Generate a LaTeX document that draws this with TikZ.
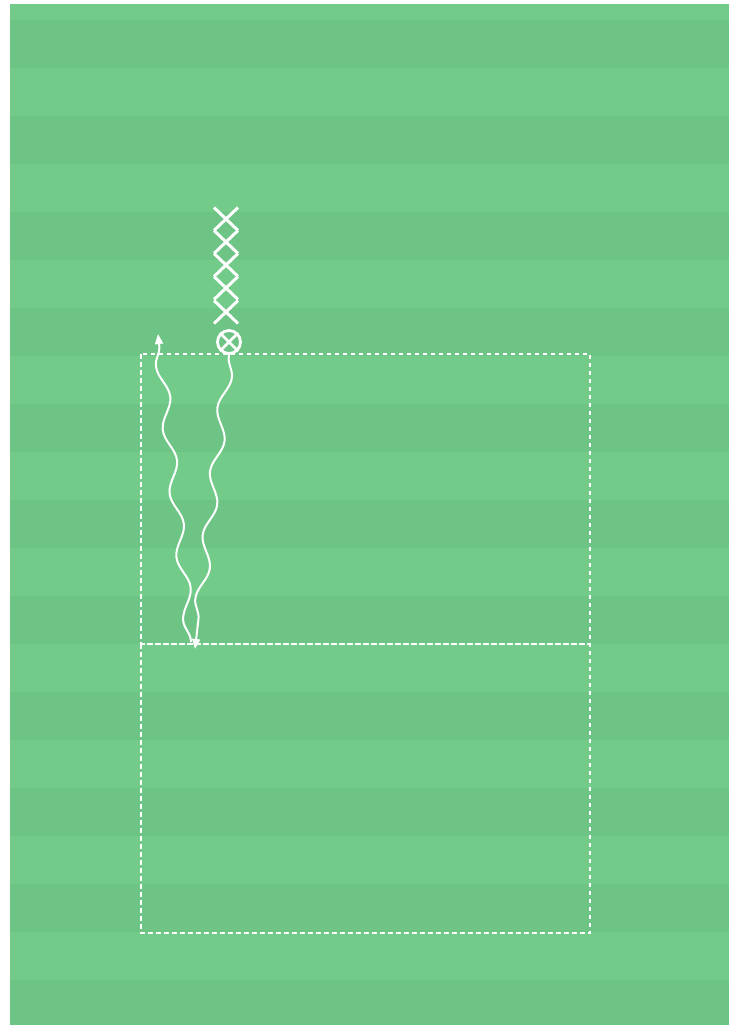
\documentclass[tikz,border=0pt]{standalone}
\usetikzlibrary{shapes.misc,decorations.pathmorphing,arrows.meta}
\definecolor{fieldlight}{RGB}{115,203,137}
\definecolor{fielddark}{RGB}{109,196,133}
\tikzset{
  zone/.style={draw=white,line width=1.8pt,dash pattern=on 4.5pt off 3.5pt},
  defender/.style={cross out,draw=white,line width=3pt,minimum width=21pt,minimum height=20pt,inner sep=0pt},
  ballplayer/.style={circle,draw=white,line width=2.8pt,minimum size=23pt,inner sep=0pt},
  dribble/.style={draw=white,line width=2pt,decorate,
    decoration={snake,segment length=64pt,amplitude=5.5pt,post length=9pt,pre length=2pt},
    -{Triangle[length=10pt,width=8pt]}}
}
\begin{document}
\begin{tikzpicture}[x=1pt,y=-1pt]
\useasboundingbox (0,0) rectangle (738,1025);
\fill[white] (0,0) rectangle (738,1025);
\fill[fieldlight] (10,4) rectangle (729,1025);
\foreach \y in {20,116,212,308,404,500,596,692,788,884,980}{
  \fill[fielddark] (10,\y) rectangle (729,{min(\y+48,1025)});
}
% zones
\draw[zone] (141,354) rectangle (590,644);
\draw[zone] (141,644) rectangle (590,933);
% defenders
\node[defender] (d1) at (226,219) {};
\node[defender] (d2) at (226,242) {};
\node[defender] (d3) at (226,265) {};
\node[defender] (d4) at (226,288) {};
\node[defender] (d5) at (226,312) {};
% player with ball
\node[ballplayer] (p) at (229,342) {};
\draw[white,line width=2.8pt] (p.north east) -- (p.south west) (p.north west) -- (p.south east);
% dribbles
\coordinate (turn) at (195,649);
\coordinate (turnb) at (191,642);
\coordinate (finish) at (158,334);
\draw[dribble] (p.south) -- (turn);
\draw[dribble] (turnb) -- (finish);
\end{tikzpicture}
\end{document}
